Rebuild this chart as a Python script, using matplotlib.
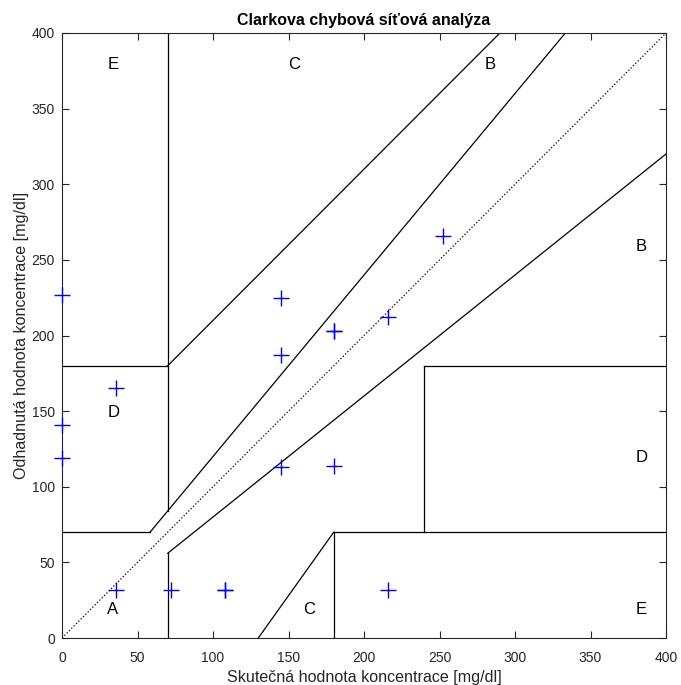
import matplotlib
matplotlib.use("Agg")
import matplotlib.pyplot as plt
from matplotlib.transforms import offset_copy

plt.rcParams['font.family'] = ['Liberation Sans', 'DejaVu Sans']

ref_vals = [0, 36, 0, 0, 36, 72, 108, 108, 145, 145, 180, 180, 216, 252, 145, 180, 216]
pred_vals = [227, 165, 141, 119, 32, 32, 32, 32, 225, 187, 203, 203, 212, 266, 113, 114, 32]

grid_lines = [
    ([0, 175/3], [70, 70]),
    ([175/3, 400/1.2], [70, 400]),
    ([70, 70], [84, 400]),
    ([0, 70], [180, 180]),
    ([70, 290], [180, 400]),
    ([70, 70], [0, 56]),
    ([70, 400], [56, 320]),
    ([180, 180], [0, 70]),
    ([180, 400], [70, 70]),
    ([240, 240], [70, 180]),
    ([240, 400], [180, 180]),
    ([130, 180], [0, 70]),
]
zone_labels = ['A', 'D', 'E', 'C', 'C', 'E', 'D', 'B', 'B']
zone_x = [30, 30, 30, 150, 160, 380, 380, 380, 280]
zone_y = [20, 150, 380, 380, 20, 20, 120, 260, 380]

fig = plt.figure(figsize=(6.81, 6.85), dpi=100)
ax = fig.add_axes([62/681, 47/685, 604/681, 605/685])

ax.plot([0, 400], [0, 400], color='k', linestyle=':', linewidth=0.9)
for xs, ys in grid_lines:
    ax.plot(xs, ys, color='k', linewidth=0.9)
ax.plot(ref_vals, pred_vals, linestyle='none', marker='+', color='#0000ff',
        markersize=11, markeredgewidth=1.0, clip_on=False, zorder=5)
tr = offset_copy(ax.transData, fig=fig, x=0, y=-1.5, units='dots')
for lab, tx, ty in zip(zone_labels, zone_x, zone_y):
    ax.text(tx, ty, lab, fontsize=12, ha='left', va='center', color='k', transform=tr)

ax.set_xlim(0, 400)
ax.set_ylim(0, 400)
ax.set_xticks(range(0, 401, 50))
ax.set_yticks(range(0, 401, 50))
ax.tick_params(direction='in', top=True, right=True, labelsize=10,
               colors='#262626', length=5, width=0.8)
ax.tick_params(axis='x', pad=9)
ax.tick_params(axis='y', pad=5)
for s in ax.spines.values():
    s.set_color('#262626')
    s.set_linewidth(0.8)
ax.set_xlabel('Skutečná hodnota koncentrace [mg/dl]', fontsize=11.6, color='#262626', labelpad=4)
ax.set_ylabel('Odhadnutá hodnota koncentrace [mg/dl]', fontsize=11.6, color='#262626', labelpad=2)
ax.set_title('Clarkova chybová síťová analýza', fontsize=11.5, fontweight='bold', pad=6)

fig.savefig('out.png', dpi=100)
